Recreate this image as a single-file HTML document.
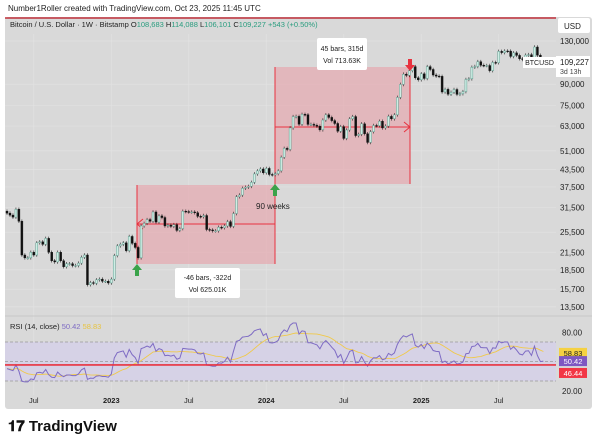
<!DOCTYPE html>
<html><head><meta charset="utf-8"><style>
body{margin:0;background:#fff;width:600px;height:442px;overflow:hidden;font-family:"Liberation Sans",sans-serif}
svg text{font-family:"Liberation Sans",sans-serif}
</style></head><body>
<svg id="c" width="600" height="442" xmlns="http://www.w3.org/2000/svg">
<rect x="0" y="0" width="600" height="442" fill="#fff"/>
<text x="8" y="11" font-size="8" fill="#222">Number1Roller created with TradingView.com, Oct 23, 2025 11:45 UTC</text>
<rect x="5" y="17" width="587" height="392" rx="3" fill="#d9d9d9"/>
<g id="grid"></g>
<g id="boxes"></g>
<g id="candles"></g>
<g id="rsi"></g>
<g id="ann"></g>
<line x1="5" y1="18" x2="556" y2="18" stroke="#c0303a" stroke-width="1.5"/>
<text x="10" y="27" font-size="7.5" fill="#222">Bitcoin / U.S. Dollar · 1W · Bitstamp  O<tspan fill="#2a9d7f">108,683</tspan> H<tspan fill="#2a9d7f">114,088</tspan> L<tspan fill="#2a9d7f">106,101</tspan> C<tspan fill="#2a9d7f">109,227 +543 (+0.50%)</tspan></text>
<rect x="558" y="18" width="32" height="15" fill="#fff" rx="2"/>
<text x="564" y="29" font-size="8" fill="#222">USD</text>
<g id="axis"></g>
<text x="8" y="431" font-size="15" font-weight="bold" fill="#111">𝟏𝟕 TradingView</text>
</svg>
<script>
const NS="http://www.w3.org/2000/svg";
const closes=[30000,29500,29000,31000,28000,21000,20500,20500,21500,21000,23300,23500,23000,24200,21500,20000,19800,21500,20000,19000,19500,19500,19200,19200,19600,20600,21000,16300,16600,16500,17000,17100,16800,16800,16550,
17100,20900,22700,23000,23300,21800,24600,23200,22400,20500,26900,27500,28400,28000,30300,27800,29300,28900,26900,27100,26800,27200,25900,26300,30500,30400,30300,30300,30100,29200,29100,29400,26100,26000,25800,25800,26600,26500,26900,27900,26800,29900,34500,35000,37100,37400,37700,39000,41900,43000,43700,42300,
43900,41700,41600,42000,43000,48300,52100,51600,62000,68300,68400,64000,69600,69400,63900,63900,63400,62900,61000,66300,69300,67800,66000,64400,60300,62700,56700,60900,67000,68300,58100,58700,64200,59000,54800,60000,63300,63200,65600,62000,63000,68400,67000,69300,80400,89800,98000,97000,101000,104500,95000,93400,
98300,94500,104500,102000,97300,96400,96200,84200,86100,82600,84000,86000,82500,83000,84500,93700,94200,104000,104600,109000,105700,105500,105500,101000,108300,108000,119000,117800,119400,119300,114000,117500,115000,111800,111100,115300,115700,112200,123500,115200,108700,109227];
const priceTicks=[130000,90000,75000,63000,51000,43500,37500,31500,25500,21500,18500,15700,13500];
const timeLabels=["Jul","2023","Jul","2024","Jul","2025","Jul"];
const timeLabelIdx=[9,35,61,87,113,139,165];
const rsiTicks=[80,20];
const rsiLevels=[70,50,30];
const firstOpen=30500;

const X=i=>7+i*2.98;
const Y=p=>41+(Math.log(130000)-Math.log(p))*117.4;
const RY=v=>361.5-(v-50)*0.975;
function mk(tag,attrs,parent){const e=document.createElementNS(NS,tag);for(const k in attrs)e.setAttribute(k,attrs[k]);document.getElementById(parent).appendChild(e);return e;}

priceTicks.forEach(p=>{const l=mk('line',{x1:5,x2:556,y1:Y(p),y2:Y(p),stroke:'#e2e2e2','stroke-width':0.7},'grid');

});
timeLabelIdx.forEach(i=>{const l=mk('line',{x1:X(i),x2:X(i),y1:34,y2:395,stroke:'#e2e2e2','stroke-width':0.7},'grid');

});
mk('line',{x1:5,x2:592,y1:316,y2:316,stroke:'#c8c8c8','stroke-width':1},'grid');

const b1=mk('rect',{x:137,y:185,width:138,height:79,fill:'#e8a0a8','fill-opacity':0.6},'boxes');


const b2=mk('rect',{x:275,y:67,width:135,height:117,fill:'#e8a0a8','fill-opacity':0.6},'boxes');


[[137,185,137,264],[275,67,275,264],[410,67,410,184],[137,224,275,224],[275,127,410,127]].forEach(a=>{
 const l=mk('line',{x1:a[0],y1:a[1],x2:a[2],y2:a[3],stroke:'#e8323f','stroke-width':1},'boxes');
 
 });
mk('path',{d:'M143 219 L137 224 L143 229',fill:'none',stroke:'#e8323f'},'boxes');
mk('path',{d:'M404 122 L410 127 L404 132',fill:'none',stroke:'#e8323f'},'boxes');

let prev=firstOpen;
closes.forEach((c,i)=>{
 const o=prev,up=c>=o,x=X(i);
 const hi=Math.max(o,c)*1.015,lo=Math.min(o,c)*0.985;
 const w=mk('line',{x1:x,x2:x,y1:Y(hi),y2:Y(lo),stroke:'#222','stroke-width':0.6},'candles');
 
 
 const yt=Y(Math.max(o,c)),yb=Y(Math.min(o,c));
 const r=mk('rect',{x:x-1,y:yt,width:2,height:Math.max(0.8,yb-yt),fill:up?'#cdeee4':'#111',stroke:up?'#4a8f80':'#111','stroke-width':0.4},'candles');
 
 
 prev=c;});

mk('rect',{x:5,y:RY(70),width:551,height:RY(30)-RY(70),fill:'#d6d2e6'},'rsi');
rsiLevels.forEach(v=>{const l=mk('line',{x1:5,x2:556,y1:RY(v),y2:RY(v),stroke:'#999','stroke-dasharray':'3 2','stroke-width':0.7},'rsi');

});
const rsi=[];let ag=700,al=900;prev=firstOpen;
closes.forEach((c,i)=>{const d=c-prev;prev=c;const g=Math.max(d,0),l=Math.max(-d,0);
 ag=(ag*13+g)/14;al=(al*13+l)/14;
 rsi.push(100-100/(1+ag/al));});
const ma=rsi.map((v,i)=>{const s=rsi.slice(Math.max(0,i-13),i+1);return s.reduce((a,b)=>a+b,0)/s.length;});
const mline=mk('polyline',{points:ma.map((v,i)=>X(i)+','+RY(v)).join(' '),fill:'none',stroke:'#f0c94a','stroke-width':0.9},'rsi');


const rline=mk('polyline',{points:rsi.map((v,i)=>X(i)+','+RY(v)).join(' '),fill:'none',stroke:'#7e6bc4','stroke-width':1},'rsi');


const red=mk('line',{x1:5,x2:556,y1:RY(46.44),y2:RY(46.44),stroke:'#e8323f','stroke-width':1.6},'rsi');


const rt=mk('text',{x:10,y:329,'font-size':7.5,fill:'#222'},'rsi');rt.innerHTML='RSI (14, close) <tspan fill="#7e6bc4">50.42</tspan> <tspan fill="#e8c440">58.83</tspan>';



priceTicks.forEach(p=>{const t=mk('text',{x:560,y:Y(p)+3,'font-size':8,fill:'#222'},'axis');t.textContent=p.toLocaleString('en-US');

});
rsiTicks.forEach(v=>{const t=mk('text',{x:562,y:RY(v)+3,'font-size':8,fill:'#222'},'axis');t.textContent=v.toFixed(2);

});
timeLabels.forEach((s,i)=>{const t=mk('text',{x:X(timeLabelIdx[i]),y:403,'font-size':7.5,fill:'#222','text-anchor':'middle','font-weight':s.length>3?'bold':'normal'},'axis');t.textContent=s;

});
mk('rect',{x:556,y:56,width:34,height:21,fill:'#fff'},'axis');
let t=mk('text',{x:560,y:65,'font-size':8,fill:'#222'},'axis');t.textContent='109,227';


t=mk('text',{x:560,y:74,'font-size':7,fill:'#444'},'axis');t.textContent='3d 13h';
mk('rect',{x:523,y:57,width:33,height:11,fill:'#fff'},'axis');
t=mk('text',{x:539.5,y:65,'font-size':7,fill:'#222','text-anchor':'middle'},'axis');t.textContent='BTCUSD';


[['58.83',RY(58.83),'#f5d142','#222'],['50.42',RY(50.42),'#7e57c2','#fff'],['46.44',RY(46.44)+8,'#f23645','#fff']].forEach(a=>{
 const y=a[1];const r=mk('rect',{x:559,y:y-5,width:28,height:10,fill:a[2]},'axis');
 
 
 const tt=mk('text',{x:573,y:y+3,'font-size':7.5,fill:a[3],'text-anchor':'middle'},'axis');tt.textContent=a[0];});

function box(x,y,w,h,l1,l2,name){const r=mk('rect',{x,y,width:w,height:h,rx:2,fill:'#fff'},'ann');
 
 
 let a=mk('text',{x:x+w/2,y:y+h/2-3,'font-size':7,fill:'#222','text-anchor':'middle'},'ann');a.textContent=l1;
 a=mk('text',{x:x+w/2,y:y+h/2+9,'font-size':7,fill:'#222','text-anchor':'middle'},'ann');a.textContent=l2;}
box(317,38,50,32,'45 bars, 315d','Vol 713.63K','measure-label-top');
box(175,268,65,30,'-46 bars, -322d','Vol 625.01K','measure-label-bottom');
t=mk('text',{x:256,y:209,'font-size':8,fill:'#222'},'ann');t.textContent='90 weeks';


function arrow(x,y,up,color,name){const d=up?`M${x} ${y} l5 6 h-3 v6 h-4 v-6 h-3 z`:`M${x} ${y} l5 -6 h-3 v-6 h-4 v6 h-3 z`;
 const p=mk('path',{d,fill:color},'ann');
 
 }
arrow(137,264,true,'#3aa34a','buy-arrow-1');
arrow(275,184,true,'#3aa34a','buy-arrow-2');
arrow(410,71,false,'#e8323f','sell-arrow');
</script>
</body></html>
